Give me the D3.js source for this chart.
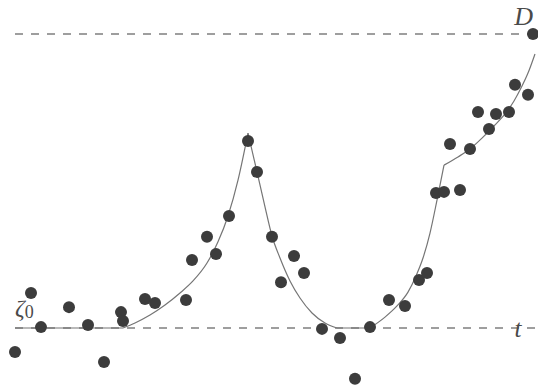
<!DOCTYPE html>
<html>
<head>
<meta charset="utf-8">
<script src="https://cdn.jsdelivr.net/npm/d3@7"></script>
<style>
  body { margin: 0; background: #fff; }
  svg { display: block; }
</style>
</head>
<body>
<div id="viz"></div>
<script>
// observations (t, value); value 0 = zeta0 level, 10 = D level
const obsT = [0.0, 1.6, 2.6, 5.4, 7.3, 8.9, 10.6, 10.8, 13.0, 14.0,
  17.1, 17.7, 19.2, 20.1, 21.4, 23.3, 24.2, 25.7, 26.6, 27.9,
  28.9, 30.7, 32.5, 34.0, 35.5, 37.4, 39.0, 40.4, 41.2, 42.1,
  42.9, 44.5, 43.5, 45.5, 46.3, 47.4, 48.1, 49.4, 50.0, 51.3, 51.8];
const obsV = [-0.82, 1.19, 0.03, 0.71, 0.10, -1.16, 0.54, 0.24, 0.99, 0.85,
  0.95, 2.31, 3.10, 2.52, 3.81, 6.36, 5.31, 3.10, 1.56, 2.45,
  1.87, -0.03, -0.34, -1.73, 0.03, 0.95, 0.75, 1.63, 1.87, 4.59,
  4.63, 4.69, 6.26, 6.09, 7.35, 6.77, 7.28, 7.35, 8.27, 7.93, 10.0];

const flat1 = [[0, 0], [10.8, 0]];
const rise1 = [[10.8, 0], [12.0, 0.17], [13.5, 0.44], [15.0, 0.78], [16.5, 1.19], [17.8, 1.60],
  [19.2, 2.21], [20.3, 2.93], [21.3, 3.81], [22.3, 5.03], [23.3, 6.63]];
const fall1 = [[23.3, 6.63], [24.2, 5.31], [25.0, 4.12], [25.7, 3.13], [26.5, 2.38], [27.5, 1.60],
  [28.5, 1.02], [29.7, 0.51], [31.0, 0.17], [32.2, 0]];
const flat2 = [[32.2, 0], [35.5, 0]];
const rise2 = [[35.5, 0], [37.0, 0.37], [38.2, 0.75], [39.3, 1.22], [40.1, 1.77], [40.8, 2.38],
  [41.5, 3.23], [42.2, 4.35], [42.9, 5.54]];
const rise3 = [[42.9, 5.54], [44.3, 5.82], [45.5, 6.09], [46.7, 6.46], [47.9, 6.87], [49.0, 7.28],
  [49.9, 7.72], [50.6, 8.16], [51.3, 8.67], [52.0, 9.32]];

const levels = [0, 10];   // zeta0 and D
const tEnd = 52;

const width = 538, height = 385;

const svg = d3.select("#viz")
  .append("svg")
  .attr("width", width)
  .attr("height", height);

const x = d3.scaleLinear().domain([0, tEnd]).range([15, 535]);
const y = d3.scaleLinear().domain([0, 10]).range([328, 34]);

// dashed reference levels
svg.append("g")
  .selectAll("line")
  .data(levels)
  .join("line")
  .attr("x1", x(0))
  .attr("x2", x(tEnd))
  .attr("y1", d => y(d))
  .attr("y2", d => y(d))
  .attr("stroke", "#9e9e9e")
  .attr("stroke-width", 2)
  .attr("stroke-dasharray", "8,8");

// curve
const line = d3.line()
  .x(d => x(d[0]))
  .y(d => y(d[1]))
  .curve(d3.curveMonotoneX);

svg.append("g")
  .selectAll("path")
  .data([flat1, rise1, fall1, flat2, rise2, rise3])
  .join("path")
  .attr("d", line)
  .attr("fill", "none")
  .attr("stroke", "#757575")
  .attr("stroke-width", 1.2);

// dots
svg.append("g")
  .selectAll("circle")
  .data(obsT.map((t, i) => [t, obsV[i]]))
  .join("circle")
  .attr("cx", d => x(d[0]))
  .attr("cy", d => y(d[1]))
  .attr("r", 6)
  .attr("fill", "#3c3c3c");

// labels
const serif = "'Liberation Serif', 'DejaVu Serif', serif";

const z = svg.append("text")
  .attr("x", 15)
  .attr("y", 316)
  .style("font-family", serif)
  .style("fill", "#4a4a4a");
z.append("tspan")
  .style("font-style", "italic")
  .style("font-size", "24px")
  .text("ζ");
z.append("tspan")
  .attr("dy", 2)
  .style("font-size", "18px")
  .text("0");

svg.append("text")
  .attr("x", 533)
  .attr("y", 25)
  .attr("text-anchor", "end")
  .style("font-family", serif)
  .style("font-style", "italic")
  .style("font-size", "26px")
  .style("fill", "#4a4a4a")
  .text("D");

svg.append("text")
  .attr("x", 518)
  .attr("y", 337)
  .attr("text-anchor", "middle")
  .style("font-family", serif)
  .style("font-style", "italic")
  .style("font-size", "25px")
  .style("fill", "#4a4a4a")
  .text("t");
</script>
</body>
</html>
